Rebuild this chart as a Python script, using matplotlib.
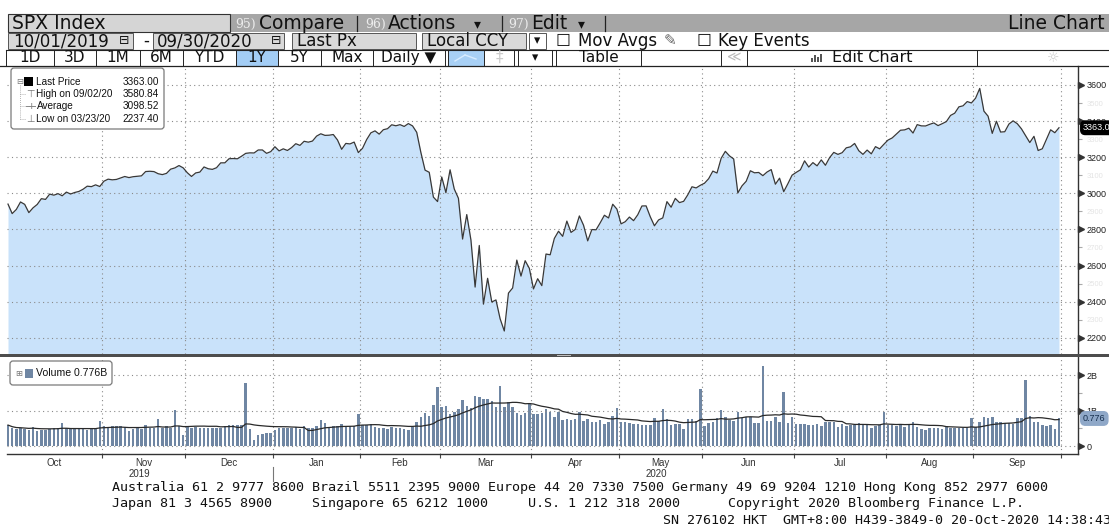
import numpy as np
import pandas as pd
import matplotlib
matplotlib.use("Agg")
import matplotlib.pyplot as plt
from matplotlib.patches import Rectangle, FancyBboxPatch
from matplotlib.lines import Line2D
from matplotlib.transforms import IdentityTransform, blended_transform_factory

plt.rcParams['font.family'] = ['Liberation Sans', 'DejaVu Sans']

# ---------------- data ----------------
months = ["Oct", "Nov", "Dec", "Jan", "Feb", "Mar", "Apr", "May", "Jun", "Jul", "Aug", "Sep"]

px_oct = [2940.25, 2887.61, 2910.63, 2952.01, 2938.79, 2893.06, 2919.40, 2938.13, 2970.27, 2966.15, 2995.68, 2989.69,
          2997.95, 2986.20, 3006.72, 2995.99, 3004.52, 3010.29, 3022.55, 3039.42, 3036.89, 3046.77, 3037.56]
px_nov = [3066.91, 3078.27, 3074.62, 3076.78, 3085.18, 3093.08, 3087.01, 3091.84, 3094.04, 3096.63, 3120.46, 3122.03,
          3120.18, 3108.46, 3103.54, 3110.29, 3133.64, 3140.52, 3153.63, 3140.98]
px_dec = [3113.87, 3093.20, 3112.76, 3117.43, 3145.91, 3135.96, 3132.52, 3141.63, 3168.57, 3168.80, 3191.45, 3192.52,
          3191.14, 3205.37, 3221.22, 3224.01, 3223.38, 3239.91, 3240.02, 3221.29, 3230.78]
px_jan = [3257.85, 3234.85, 3246.28, 3237.18, 3253.05, 3274.70, 3265.35, 3288.13, 3283.15, 3289.29, 3316.81, 3329.62,
          3320.79, 3321.75, 3325.54, 3295.47, 3243.63, 3276.24, 3273.40, 3283.66, 3225.52]
px_feb = [3248.92, 3297.59, 3334.69, 3345.78, 3327.71, 3352.09, 3357.75, 3379.45, 3373.94, 3380.16, 3370.29, 3386.15,
          3373.23, 3337.75, 3225.89, 3128.21, 3116.39, 2978.76, 2954.22]
px_mar = [3090.23, 3003.37, 3130.12, 3023.94, 2972.37, 2746.56, 2882.23, 2741.38, 2480.64, 2711.02, 2386.13, 2529.19,
          2398.10, 2409.39, 2304.92, 2237.40, 2447.33, 2475.56, 2630.07, 2541.47, 2626.65, 2584.59]
px_apr = [2470.50, 2526.90, 2488.65, 2663.68, 2659.41, 2749.98, 2789.82, 2761.63, 2846.06, 2783.36, 2799.55, 2874.56,
          2823.16, 2736.56, 2799.31, 2797.80, 2836.74, 2878.48, 2863.39, 2939.51, 2912.43]
px_may = [2830.71, 2842.74, 2868.44, 2848.42, 2881.19, 2929.80, 2930.32, 2870.12, 2820.00, 2852.50, 2863.70, 2953.91,
          2922.94, 2971.61, 2948.51, 2955.45, 2991.77, 3036.13, 3029.73, 3044.31]
px_jun = [3055.73, 3080.82, 3122.87, 3112.35, 3193.93, 3232.39, 3207.18, 3190.14, 3002.10, 3041.31, 3066.59, 3124.74,
          3113.49, 3115.34, 3097.74, 3117.86, 3131.29, 3050.33, 3083.76, 3009.05, 3053.24, 3100.29]
px_jul = [3115.86, 3130.01, 3179.72, 3145.32, 3169.94, 3152.05, 3185.04, 3155.22, 3197.52, 3226.56, 3215.57, 3224.73,
          3251.84, 3257.30, 3276.02, 3235.66, 3215.63, 3239.41, 3218.44, 3258.44, 3246.22, 3271.12]
px_aug = [3294.61, 3306.51, 3327.77, 3349.16, 3351.28, 3360.47, 3333.69, 3380.35, 3373.43, 3372.85, 3381.99, 3389.78,
          3374.85, 3385.51, 3397.16, 3431.28, 3443.62, 3478.73, 3484.55, 3508.01, 3500.31]
px_sep = [3526.65, 3580.84, 3455.06, 3426.96, 3331.84, 3398.96, 3339.19, 3340.97, 3383.54, 3401.20, 3385.49, 3357.01,
          3319.47, 3281.06, 3315.57, 3236.92, 3246.59, 3298.46, 3351.60, 3335.47, 3363.00]

vol_oct = [0.59, 0.50, 0.47, 0.50, 0.47, 0.45, 0.54, 0.42, 0.44, 0.46, 0.48, 0.50, 0.52, 0.66, 0.50, 0.47, 0.49, 0.48,
           0.47, 0.46, 0.48, 0.52, 0.71]
vol_nov = [0.55, 0.53, 0.56, 0.55, 0.57, 0.54, 0.42, 0.47, 0.50, 0.48, 0.58, 0.50, 0.52, 0.76, 0.50, 0.55, 0.52, 1.01,
           0.55, 0.31]
vol_dec = [0.55, 0.52, 0.53, 0.50, 0.51, 0.50, 0.52, 0.51, 0.52, 0.55, 0.60, 0.58, 0.60, 0.58, 1.77, 0.47, 0.17, 0.31,
           0.34, 0.36, 0.38]
vol_jan = [0.45, 0.50, 0.50, 0.52, 0.50, 0.53, 0.48, 0.55, 0.50, 0.50, 0.55, 0.73, 0.64, 0.50, 0.56, 0.56, 0.62, 0.55,
           0.55, 0.55, 0.89]
vol_feb = [0.59, 0.59, 0.61, 0.54, 0.50, 0.50, 0.48, 0.54, 0.52, 0.50, 0.48, 0.45, 0.54, 0.69, 0.81, 0.92, 0.85, 1.15,
           1.67]
vol_mar = [1.11, 1.14, 0.89, 0.95, 1.05, 1.30, 1.14, 1.07, 1.42, 1.37, 1.32, 1.32, 1.28, 1.11, 1.69, 1.11, 1.23, 1.09,
           0.93, 0.86, 0.92, 1.20]
vol_apr = [0.90, 0.90, 0.94, 1.03, 0.97, 0.81, 0.97, 0.73, 0.75, 0.73, 0.75, 0.97, 0.71, 0.75, 0.67, 0.69, 0.73, 0.62,
           0.69, 0.85, 1.08]
vol_may = [0.69, 0.67, 0.64, 0.61, 0.62, 0.59, 0.59, 0.59, 0.78, 0.70, 1.03, 0.75, 0.59, 0.61, 0.61, 0.48, 0.75, 0.75,
           0.71, 1.60]
vol_jun = [0.56, 0.66, 0.69, 0.78, 1.01, 0.81, 0.73, 0.70, 0.95, 0.78, 0.81, 0.81, 0.66, 0.66, 2.26, 0.71, 0.71, 0.81,
           0.68, 1.53, 0.64, 0.81]
vol_jul = [0.62, 0.61, 0.62, 0.59, 0.59, 0.62, 0.56, 0.67, 0.67, 0.67, 0.54, 0.62, 0.56, 0.59, 0.59, 0.64, 0.59, 0.59,
           0.50, 0.57, 0.59, 0.95]
vol_aug = [0.59, 0.59, 0.57, 0.59, 0.54, 0.59, 0.67, 0.54, 0.48, 0.45, 0.50, 0.50, 0.52, 0.48, 0.57, 0.52, 0.50, 0.52,
           0.52, 0.52, 0.78]
vol_sep = [0.54, 0.67, 0.81, 0.80, 0.83, 0.69, 0.67, 0.64, 0.64, 0.61, 0.78, 0.78, 1.86, 0.85, 0.67, 0.69, 0.59, 0.56,
           0.59, 0.47, 0.776]

price_ticks = [2200, 2400, 2600, 2800, 3000, 3200, 3400, 3600]
price_minor = [2300, 2500, 2700, 2900, 3100, 3300, 3500]
vol_ticks = [0, 1, 2]
vol_tick_labels = ["0", "1B", "2B"]

legend_rows = [("Last Price", "3363.00"), ("High on 09/02/20", "3580.84"),
               ("Average", "3098.52"), ("Low on 03/23/20", "2237.40")]
last_price = 3363.00
last_volume = 0.776

price_months = [px_oct, px_nov, px_dec, px_jan, px_feb, px_mar, px_apr, px_may, px_jun, px_jul, px_aug, px_sep]
vol_months = [vol_oct, vol_nov, vol_dec, vol_jan, vol_feb, vol_mar, vol_apr, vol_may, vol_jun, vol_jul, vol_aug, vol_sep]
price = np.concatenate(price_months)
volume = np.concatenate(vol_months)
x = np.arange(len(price))
lengths = [len(m) for m in price_months]
starts = np.concatenate([[0], np.cumsum(lengths)[:-1]])
bounds = np.cumsum(lengths) - 0.5
centers = starts + (np.array(lengths) - 1) / 2.0
vol_ma = pd.Series(volume).rolling(15, min_periods=1).mean().values

# ---------------- figure / helpers ----------------
W, H = 1109, 527
ID = IdentityTransform()
fig = plt.figure(figsize=(W / 100, H / 100), dpi=100)
fig.patch.set_facecolor('white')


def P(xp, yp):
    return (xp, H - yp)


def rect(x0, y0, x1, y1, fc='none', ec='none', lw=0.8, z=2):
    fig.add_artist(Rectangle(P(x0, y1), x1 - x0, y1 - y0, transform=ID, facecolor=fc,
                             edgecolor=ec, linewidth=lw, zorder=z))


def rbox(x0, y0, x1, y1, fc='white', ec='#7a7a7a', lw=0.9, r=3, z=7):
    fig.add_artist(FancyBboxPatch(P(x0, y1), x1 - x0, y1 - y0,
                                  boxstyle=f'round,pad=0,rounding_size={r}', transform=ID,
                                  facecolor=fc, edgecolor=ec, linewidth=lw, zorder=z))


def seg(x0, y0, x1, y1, color='#222', lw=0.8, z=3, ls='-'):
    fig.add_artist(Line2D([x0, x1], [H - y0, H - y1], transform=ID, color=color, lw=lw, zorder=z, ls=ls))


def txt(xp, yp, s, size, color='#111', ha='left', va='center', family=('DejaVu Sans',), weight='normal', z=8):
    fig.text(xp, H - yp, s, transform=ID, fontsize=size, color=color, ha=ha, va=va,
             family=list(family), fontweight=weight, zorder=z)


AX_L, AX_R = 7, 1078
XMIN, XMAX = -0.24, 256.56


def xpix(i):
    return AX_L + (i - XMIN) / (XMAX - XMIN) * (AX_R - AX_L)


# ---------------- header rows ----------------
# row 1
R1 = 23.5
rect(230, 14, 1109, 32, fc='#a6a6a6')
rect(8, 14, 230, 32, fc='#d5d5d5', ec='#333', lw=0.8)
txt(12, R1, 'SPX Index', 13.5)
txt(235, R1 + 0.5, '95)', 9, color='#ececec', family=('DejaVu Serif',))
txt(259, R1, 'Compare', 13.5)
seg(357, 15.5, 357, 31, color='#222', lw=0.9)
txt(365, R1 + 0.5, '96)', 9, color='#ececec', family=('DejaVu Serif',))
txt(388, R1, 'Actions', 13.5)
txt(474, R1 + 0.5, '▾', 10)
seg(502, 15.5, 502, 31, color='#222', lw=0.9)
txt(508, R1 + 0.5, '97)', 9, color='#ececec', family=('DejaVu Serif',))
txt(531, R1, 'Edit', 13.5)
txt(578, R1 + 0.5, '▾', 10)
seg(605, 15.5, 605, 31, color='#222', lw=0.9)
txt(1105, R1, 'Line Chart', 13.5, ha='right')

# row 2
ROW2 = 41
rect(8, 33, 133, 48.5, fc='#d9d9d9', ec='#555', lw=0.7)
txt(13, ROW2, '10/01/2019', 12)
txt(124, ROW2, '⊟', 9, ha='center')
txt(146, ROW2, '-', 12, ha='center')
rect(153, 33, 284, 48.5, fc='#d9d9d9', ec='#555', lw=0.7)
txt(157, ROW2, '09/30/2020', 12)
txt(276, ROW2, '⊟', 9, ha='center')
rect(292, 33, 416, 48.5, fc='#d9d9d9', ec='#555', lw=0.7)
txt(297, ROW2, 'Last Px', 12)
rect(422, 33, 526, 48.5, fc='#d9d9d9', ec='#555', lw=0.7)
txt(427, ROW2, 'Local CCY', 12)
rect(529, 33, 546, 48.5, fc='white', ec='#555', lw=0.7)
txt(537.5, ROW2, '▾', 9, ha='center')
txt(556, ROW2, '☐', 12)
txt(578, ROW2, 'Mov Avgs', 12)
txt(664, ROW2, '✎', 11, color='#666')
txt(697, ROW2, '☐', 12)
txt(718, ROW2, 'Key Events', 12)

# row 3
R3T, R3B = 49.5, 65.5
ROW3 = 57.5
rect(236, R3T, 278, R3B, fc='#a3cdf5')
rect(448, R3T, 484, R3B, fc='#a8d0f5')
seg(6, R3T, 1109, R3T, color='#222', lw=0.8)
seg(0, R3B, 1109, R3B, color='#222', lw=0.9)
cells = [6, 54, 96, 140, 183, 236, 278, 321, 373, 445, 448, 484, 514, 518, 552, 556, 641, 721, 747, 977]
for cx in cells:
    seg(cx, R3T, cx, R3B, color='#222', lw=0.7)
for lab, a, b in [('1D', 6, 54), ('3D', 54, 96), ('1M', 96, 140), ('6M', 140, 183), ('YTD', 183, 236),
                  ('1Y', 236, 278), ('5Y', 278, 321), ('Max', 321, 373)]:
    txt((a + b) / 2, ROW3, lab, 11, ha='center')
txt(381, ROW3, 'Daily ▼', 11)
seg(455, 61, 465, 55, color='#d8ecff', lw=1.0, z=9)
seg(465, 55, 476, 59, color='#d8ecff', lw=1.0, z=9)
txt(499, ROW3, '‡', 11, color='#cccccc', ha='center')
txt(535, ROW3, '▾', 9, ha='center')
txt(599, ROW3, 'Table', 11, ha='center')
txt(734, ROW3, '≪', 10, color='#bbbbbb', ha='center')
for bx, bh in [(811, 4), (814, 7), (817, 5), (820, 8)]:
    rect(bx, 62 - bh, bx + 2, 62, fc='#555', z=9)
txt(832, ROW3, 'Edit Chart', 11.5)
txt(1053, ROW3, '☼', 10, color='#cccccc', ha='center')

# ---------------- price panel ----------------
ax_p = fig.add_axes([AX_L / W, 1 - 354 / H, (AX_R - AX_L) / W, (354 - 66) / H])
ax_v = fig.add_axes([AX_L / W, 1 - 454 / H, (AX_R - AX_L) / W, (454 - 357) / H])
grid_kw = dict(color='#8a8a8a', lw=0.8, ls=(0, (1, 3)), zorder=3)

P_LO, P_HI = 2110, 3705
ax_p.set_xlim(XMIN, XMAX)
ax_p.set_ylim(P_LO, P_HI)
ax_p.fill_between(x, price, P_LO, color='#c9e2fa', lw=0, zorder=1)
ax_p.plot(x, price, color='#383838', lw=0.9, zorder=4)
for b in bounds:
    ax_p.axvline(b, **grid_kw)
for v in price_ticks:
    ax_p.axhline(v, **grid_kw)
for s in ['left', 'top', 'bottom']:
    ax_p.spines[s].set_visible(False)
ax_p.spines['right'].set_color('#333')
ax_p.spines['right'].set_linewidth(1.0)
ax_p.set_xticks([])
ax_p.yaxis.tick_right()
ax_p.set_yticks(price_ticks)
ax_p.set_yticklabels([str(v) for v in price_ticks])
ax_p.set_yticks(price_minor, minor=True)
ax_p.set_yticklabels([str(v) for v in price_minor], minor=True)
ax_p.tick_params(axis='y', which='major', length=0, pad=6, labelsize=6.5, labelcolor='#222')
ax_p.tick_params(axis='y', which='minor', length=3, width=0.8, color='#aaaaaa', pad=3,
                 labelsize=5.5, labelcolor='#e4e4e4')
trp = blended_transform_factory(ax_p.transAxes, ax_p.transData)
ax_p.plot([1 + 3 / 1071] * len(price_ticks), price_ticks, ls='none', marker='>', ms=4.5,
          color='#333', transform=trp, clip_on=False, zorder=6)
ax_p.text(1 + 5 / 1071, last_price, f'{last_price:.2f}', transform=trp, color='white', fontsize=6.5,
          va='center', ha='left', clip_on=False, zorder=10,
          bbox=dict(boxstyle='round,pad=0.25,rounding_size=0.5', fc='black', ec='black'))

# ---------------- volume panel ----------------
V_LO, V_HI = -0.225, 2.507
ax_v.set_xlim(XMIN, XMAX)
ax_v.set_ylim(V_LO, V_HI)
ax_v.bar(x, volume, width=0.6, color='#6f86a3', zorder=2, lw=0)
ax_v.plot(x, vol_ma, color='#2a2a2a', lw=0.9, zorder=4)
for b in bounds:
    ax_v.axvline(b, **grid_kw)
for v in vol_ticks:
    ax_v.axhline(v, **grid_kw)
for s in ['left', 'top']:
    ax_v.spines[s].set_visible(False)
for s in ['right', 'bottom']:
    ax_v.spines[s].set_color('#333')
    ax_v.spines[s].set_linewidth(1.0)
ax_v.yaxis.tick_right()
ax_v.set_yticks(vol_ticks)
ax_v.set_yticklabels(vol_tick_labels)
ax_v.set_yticks([0.5, 1.5], minor=True)
ax_v.tick_params(axis='y', which='major', length=0, pad=6, labelsize=6.5, labelcolor='#222')
ax_v.tick_params(axis='y', which='minor', length=3, width=0.8, color='#aaaaaa')
trv = blended_transform_factory(ax_v.transAxes, ax_v.transData)
ax_v.plot([1 + 3 / 1071] * len(vol_ticks), vol_ticks, ls='none', marker='>', ms=4.5,
          color='#333', transform=trv, clip_on=False, zorder=6)
ax_v.text(1 + 5 / 1071, last_volume, f'{last_volume:.3f}', transform=trv, color='#17304f', fontsize=6.5,
          va='center', ha='left', clip_on=False, zorder=10,
          bbox=dict(boxstyle='round,pad=0.25,rounding_size=0.5', fc='#8fa8c8', ec='#8fa8c8'))
ax_v.set_xticks(centers)
ax_v.set_xticklabels(months)
ax_v.set_xticks(bounds, minor=True)
ax_v.tick_params(axis='x', which='major', length=0, pad=3, labelsize=7, labelcolor='#333')
ax_v.tick_params(axis='x', which='minor', length=3, width=0.8, color='#444', direction='out')

# year labels and separator
txt(xpix(centers[1]) - 4, 474, '2019', 7, color='#333', ha='center', family=('Liberation Sans',))
txt(xpix(centers[7]) - 4, 474, '2020', 7, color='#333', ha='center', family=('Liberation Sans',))
seg(xpix(bounds[2]), 467, xpix(bounds[2]), 481, color='#777', lw=0.8)

# panel separator
rect(0, 353.6, 1109, 356.9, fc='#4d4d4d', z=6)
rect(557, 354.5, 571, 356.0, fc='#bdbdbd', z=6.5)

# ---------------- legends ----------------
LF = ('Liberation Sans', 'DejaVu Sans')
rbox(11, 68, 164, 129)
rows_y = [81.7, 94, 106.3, 119]
txt(19.5, rows_y[0], '⊟', 6, color='#777', ha='center', family=('DejaVu Sans',))
rect(24, rows_y[0] - 4.5, 33, rows_y[0] + 4.5, fc='black', z=9)
seg(20, 85, 20, rows_y[3], color='#9a9a9a', lw=0.6, z=9, ls=(0, (1, 1.5)))
for ry in rows_y[1:]:
    seg(20, ry, 25, ry, color='#9a9a9a', lw=0.6, z=9, ls=(0, (1, 1.5)))
txt(30, rows_y[1], '⊤', 7, color='#777', ha='center', family=('DejaVu Sans',))
seg(26, rows_y[2], 35, rows_y[2], color='#888', lw=0.7, z=9)
txt(30.5, rows_y[2], '+', 6.5, color='#777', ha='center', family=('DejaVu Sans',))
txt(30, rows_y[3], '⊥', 7, color='#777', ha='center', family=('DejaVu Sans',))
for (lab, val), ry in zip(legend_rows, rows_y):
    txt(36.5, ry, lab, 7.2, color='#111', family=LF)
    txt(158.7, ry, val, 7.2, color='#111', ha='right', family=LF)

rbox(10, 361, 112, 385)
txt(19, 373.5, '⊞', 6, color='#777', ha='center', family=('DejaVu Sans',))
rect(25, 369.3, 33, 378.3, fc='#6f86a3', z=9)
txt(36, 373.5, f'Volume {last_volume:.3f}B', 7.6, color='#111', family=LF)

# ---------------- footer ----------------
MONO = ('DejaVu Sans Mono',)
txt(112, 487, 'Australia 61 2 9777 8600 Brazil 5511 2395 9000 Europe 44 20 7330 7500 Germany 49 69 9204 1210 '
              'Hong Kong 852 2977 6000', 9.6, family=MONO)
txt(112, 503.5, 'Japan 81 3 4565 8900     Singapore 65 6212 1000     U.S. 1 212 318 2000      '
                'Copyright 2020 Bloomberg Finance L.P.', 9.6, family=MONO)
txt(1111, 521, 'SN 276102 HKT  GMT+8:00 H439-3849-0 20-Oct-2020 14:38:43', 9.6, ha='right', family=MONO)

fig.savefig('out.png', dpi=100)
